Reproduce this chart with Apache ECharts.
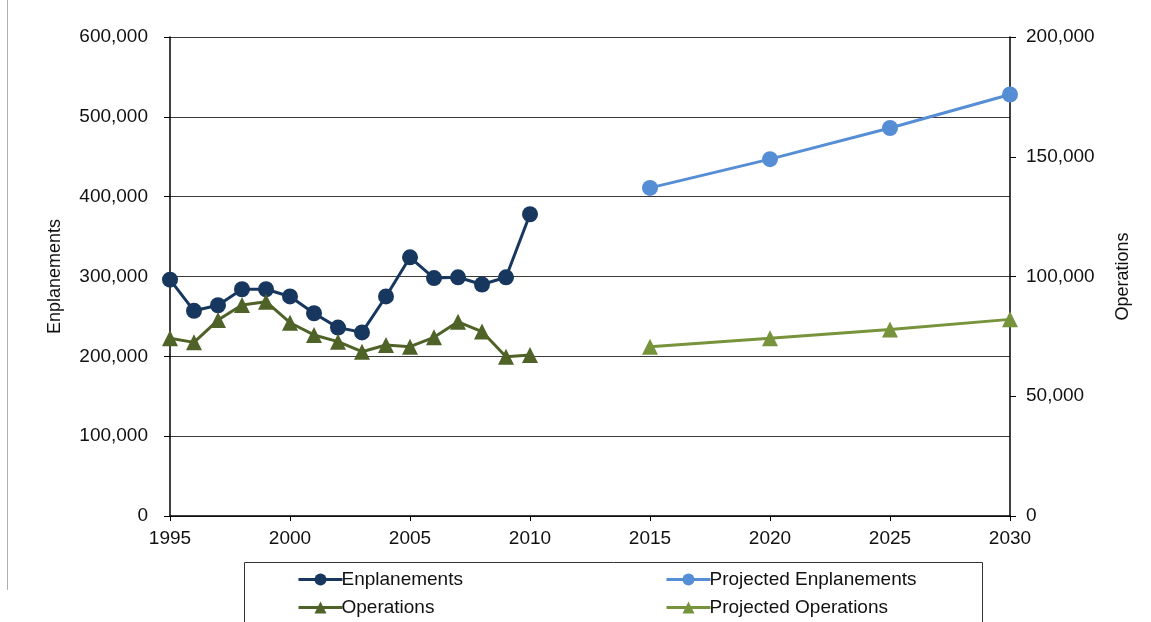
<!DOCTYPE html>
<html>
<head>
<meta charset="utf-8">
<script src="https://cdn.jsdelivr.net/npm/echarts@6/dist/echarts.min.js"></script>
<style>
html,body{margin:0;padding:0;background:#fff;}
#chart{width:1151px;height:622px;}
</style>
</head>
<body>
<div id="chart"></div>
<script>
// ---- data ----
const histYears = [1995,1996,1997,1998,1999,2000,2001,2002,2003,2004,2005,2006,2007,2008,2009,2010];
const enplanements = [296000,257000,264000,284000,284000,275000,254000,236000,230000,275000,324000,298000,299000,290000,299000,378000];
const operations = [74200,72500,81800,88100,89500,80700,75600,72800,68600,71400,70700,74600,81100,77000,66500,67200];
const projYears = [2015,2020,2025,2030];
const projEnplanements = [411000,447000,486000,528000];
const projOperations = [70700,74200,77900,82100];
const seriesNames = ['Enplanements','Projected Enplanements','Operations','Projected Operations'];
const leftAxisName = 'Enplanements';
const rightAxisName = 'Operations';

const zip = (xs, ys) => xs.map((x, i) => [x, ys[i]]);
const FONT = 'Liberation Sans, Arial, sans-serif';
const C = {enp:'#17375E', ops:'#4F6228', penp:'#558ED5', pops:'#77933C'};

const chart = echarts.init(document.getElementById('chart'), null, {renderer:'canvas'});
const lineSeries = (name, data, color, symbol, yIdx) => ({
  name, type:'line', data, yAxisIndex:yIdx,
  symbol, symbolSize:16,
  lineStyle:{color, width:3},
  itemStyle:{color},
  emphasis:{disabled:true},
  animation:false
});
const legendCommon = {
  top:565, orient:'vertical', itemGap:9,
  itemWidth:44, itemHeight:15,
  lineStyle:{width:3},
  textStyle:{color:'#111', fontSize:19, fontFamily:FONT, padding:[0,0,0,-6]},
  selectedMode:false
};

chart.setOption({
  backgroundColor:'#fff',
  textStyle:{fontFamily:FONT},
  grid:{left:170, right:141, top:37, bottom:106},
  xAxis:{
    type:'value', min:1995, max:2030, interval:5,
    axisLine:{show:true, lineStyle:{color:'#000', width:1.5}},
    axisTick:{show:true, inside:false, length:5, lineStyle:{color:'#000'}},
    splitLine:{show:false},
    axisLabel:{color:'#111', fontSize:19, fontFamily:FONT, margin:13, formatter:v => String(v)}
  },
  yAxis:[{
    type:'value', min:0, max:600000, interval:100000, position:'left',
    name:leftAxisName, nameLocation:'middle', nameGap:106, nameRotate:90,
    nameTextStyle:{color:'#111', fontSize:18, fontFamily:FONT},
    axisLine:{show:true, lineStyle:{color:'#000', width:1.5}},
    axisTick:{show:true, inside:false, length:6, lineStyle:{color:'#000'}},
    splitLine:{show:true, lineStyle:{color:'#3a3a3a', width:1}},
    axisLabel:{color:'#111', fontSize:19, fontFamily:FONT, margin:22}
  },{
    type:'value', min:0, max:200000, interval:50000, position:'right',
    name:rightAxisName, nameLocation:'middle', nameGap:104, nameRotate:90,
    nameTextStyle:{color:'#111', fontSize:18, fontFamily:FONT},
    axisLine:{show:true, lineStyle:{color:'#000', width:1.5}},
    axisTick:{show:true, inside:false, length:6, lineStyle:{color:'#000'}},
    splitLine:{show:false},
    axisLabel:{color:'#111', fontSize:19, fontFamily:FONT, margin:16}
  }],
  legend:[
    Object.assign({left:292, data:[seriesNames[0], seriesNames[2]]}, legendCommon),
    Object.assign({left:660, data:[seriesNames[1], seriesNames[3]]}, legendCommon)
  ],
  graphic:[
    {type:'rect', left:242, top:560, shape:{width:738, height:61}, style:{fill:'none', stroke:'#333', lineWidth:1}, silent:true},
    {type:'line', shape:{x1:7.5, y1:0, x2:7.5, y2:590}, style:{stroke:'#b0b0b0', lineWidth:1}, silent:true}
  ],
  series:[
    lineSeries(seriesNames[0], zip(histYears, enplanements), C.enp, 'circle', 0),
    lineSeries(seriesNames[1], zip(projYears, projEnplanements), C.penp, 'circle', 0),
    lineSeries(seriesNames[2], zip(histYears, operations), C.ops, 'triangle', 1),
    lineSeries(seriesNames[3], zip(projYears, projOperations), C.pops, 'triangle', 1)
  ]
});
</script>
</body>
</html>
